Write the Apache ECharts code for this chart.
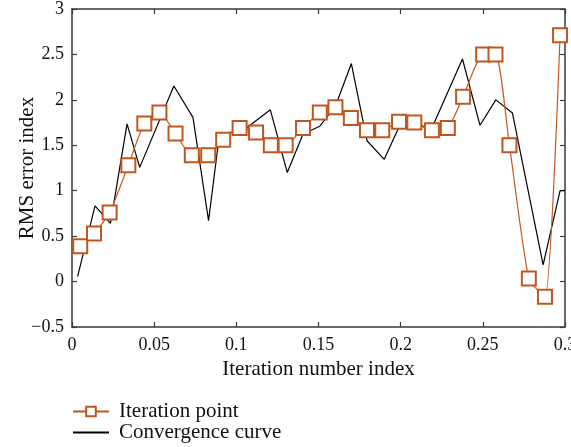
<!DOCTYPE html>
<html>
<head>
<meta charset="utf-8">
<script src="https://cdn.jsdelivr.net/npm/echarts@6/dist/echarts.min.js"></script>
<style>html,body{margin:0;padding:0;background:#fff}#c{width:571px;height:447px}</style>
</head>
<body>
<div id="c"></div>
<script>
var iterX = [0.005,0.0134,0.0229,0.0343,0.044,0.0532,0.063,0.0729,0.0829,0.092,0.102,0.112,0.121,0.130,0.1406,0.1508,0.1603,0.1697,0.1795,0.1888,0.199,0.2083,0.219,0.2287,0.238,0.2502,0.2577,0.2662,0.278,0.2878,0.297];
var iterY = [0.39,0.53,0.76,1.28,1.74,1.86,1.63,1.39,1.39,1.56,1.69,1.64,1.5,1.5,1.69,1.86,1.92,1.80,1.665,1.665,1.76,1.75,1.665,1.69,2.035,2.50,2.50,1.50,0.033,-0.168,2.71];
var convX = [0.0034,0.014,0.0234,0.0335,0.0412,0.062,0.0736,0.0831,0.0898,0.104,0.1207,0.131,0.1406,0.1508,0.1603,0.170,0.1795,0.19,0.199,0.2087,0.218,0.2376,0.2483,0.2579,0.268,0.2867,0.297,0.3];
var convY = [0.055,0.833,0.64,1.735,1.257,2.153,1.807,0.671,1.63,1.66,1.89,1.2,1.625,1.71,1.93,2.40,1.55,1.345,1.70,1.775,1.65,2.45,1.72,2.0,1.856,0.183,1.0,1.0];
var seriesNames = ['Iteration point', 'Convergence curve'];
var xTitle = 'Iteration number index';
var yTitle = 'RMS error index';

function zip(a, b) { return a.map(function (v, i) { return [v, b[i]]; }); }

var FONT = '"Liberation Serif", "DejaVu Serif", serif';
var ORANGE = '#c0561e';
var AX = '#3a3a3a';

function mkX(pos, labels) {
  return {
    type: 'value', position: pos, min: 0, max: 0.3, interval: 0.05,
    name: labels ? xTitle : '', nameLocation: 'middle', nameGap: 32, nameMoveOverlap: false,
    nameTextStyle: { fontFamily: FONT, fontSize: 21, color: '#111' },
    axisLine: { show: true, onZero: false, lineStyle: { color: AX, width: 1.5 } },
    axisTick: { show: true, inside: true, length: 5, lineStyle: { color: AX, width: 1.2 } },
    axisLabel: { show: labels, fontFamily: FONT, fontSize: 18, color: '#111', margin: 9 },
    splitLine: { show: false }
  };
}
function mkY(pos, labels) {
  return {
    type: 'value', position: pos, min: -0.5, max: 3, interval: 0.5,
    name: labels ? yTitle : '', nameLocation: 'middle', nameGap: 34, nameRotate: 90, nameMoveOverlap: false,
    nameTextStyle: { fontFamily: FONT, fontSize: 21, color: '#111' },
    axisLine: { show: true, onZero: false, lineStyle: { color: AX, width: 1.5 } },
    axisTick: { show: true, inside: true, length: 5, lineStyle: { color: AX, width: 1.2 } },
    axisLabel: { show: labels, fontFamily: FONT, fontSize: 18, color: '#111', margin: 8,
      formatter: function (v) { return String(v).replace('-', '\u2212'); } },
    splitLine: { show: false }
  };
}

var chart = echarts.init(document.getElementById('c'), null, { renderer: 'canvas' });
chart.setOption({
  animation: false,
  backgroundColor: '#fff',
  grid: { left: 72, right: 6, top: 9, bottom: 120, containLabel: false, outerBoundsMode: 'none' },
  xAxis: [mkX('bottom', true), mkX('top', false)],
  yAxis: [mkY('left', true), mkY('right', false)],
  legend: {
    orient: 'vertical', left: 72, top: 401, padding: 0, itemWidth: 36, itemHeight: 12, itemGap: 0,
    textStyle: { fontFamily: FONT, fontSize: 21, lineHeight: 21, color: '#111', padding: [0, 0, 0, 5] },
    data: [
      { name: seriesNames[0] },
      { name: seriesNames[1], itemStyle: { color: 'rgba(0,0,0,0)', borderColor: 'rgba(0,0,0,0)', borderWidth: 0 } }
    ]
  },
  series: [
    {
      name: seriesNames[1], type: 'line', data: zip(convX, convY),
      symbol: 'none', lineStyle: { color: '#000', width: 1.2 }, itemStyle: { color: '#000' }, z: 2
    },
    {
      name: seriesNames[0], type: 'line', data: zip(iterX, iterY),
      smooth: 0.2, symbol: 'emptyRect', symbolSize: 14,
      lineStyle: { color: ORANGE, width: 1.2 },
      itemStyle: { color: ORANGE, borderColor: ORANGE, borderWidth: 1.5 }, z: 3
    }
  ]
});
</script>
</body>
</html>
